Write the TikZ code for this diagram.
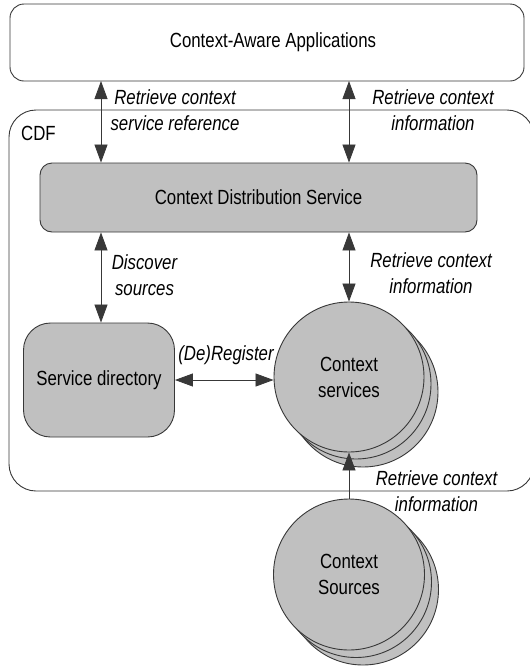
\documentclass[tikz,border=0pt]{standalone}
\usepackage{fontspec}
\setmainfont[FakeStretch=0.82]{Liberation Sans}
\usetikzlibrary{arrows.meta}
\definecolor{boxgray}{HTML}{C0C0C0}
\definecolor{linegray}{HTML}{383838}
\tikzset{
  lbl/.style={font=\fontsize{20.5}{26}\selectfont, align=center, inner sep=0pt},
  ilbl/.style={font=\fontsize{20.5}{26}\selectfont\itshape, align=center, inner sep=0pt},
  graybox/.style={draw=linegray, line width=0.9pt, fill=boxgray},
  ctxcircle/.style={graybox, circle, minimum size=150pt, inner sep=0pt, font=\fontsize{20.5}{26}\selectfont, align=center},
  biarrow/.style={draw=linegray, line width=0.8pt, {Triangle[length=18pt,width=13pt]}-{Triangle[length=18pt,width=13pt]}},
  uparrow/.style={draw=linegray, line width=0.8pt, -{Triangle[length=18pt,width=13pt]}}
}
\begin{document}
\begin{tikzpicture}[x=1pt,y=-1pt]
\useasboundingbox (0,0) rectangle (530,667);
\begin{scope}
\clip (0,0) rectangle (530,667);
% CDF container
\draw[draw=linegray, line width=0.9pt, fill=white, rounded corners=27pt] (9,110) rectangle (534,491);
\end{scope}
\node[lbl, anchor=west] (cdf) at (21,133) {CDF};
% Applications
\draw[draw=linegray, line width=0.9pt, fill=white, rounded corners=14pt] (10,4) rectangle (524,81);
\node[lbl] (apps) at (273,42.5) {Context-Aware Applications};
\coordinate (appsS) at (267,81);
% Context Distribution Service
\node[graybox, rounded corners=12pt, minimum width=437pt, minimum height=69pt, lbl, inner sep=0pt] (cds) at (258.5,197.5) {Context Distribution Service};
% Service directory
\node[graybox, rounded corners=27pt, minimum width=151pt, minimum height=114pt, lbl, inner sep=0pt] (sd) at (99,380) {Service directory};
% Context services (stacked)
\node[ctxcircle] (svcC) at (363,392) {};
\node[ctxcircle] (svcB) at (356,384) {};
\node[ctxcircle] (svc) at (349,377) {Context\\services};
% Context sources (stacked)
\node[ctxcircle, minimum size=151pt] (srcC) at (363,589.5) {};
\node[ctxcircle, minimum size=151pt] (srcB) at (356,582) {};
\node[ctxcircle, minimum size=151pt] (src) at (349,574.5) {Context\\Sources};
% helper x positions
\coordinate (xL) at (101,0);
\coordinate (xR) at (349,0);
% arrows
\draw[biarrow] (appsS -| xL) -- (cds.north -| xL);
\draw[biarrow] (appsS -| xR) -- (cds.north -| xR);
\draw[biarrow] (cds.south -| xL) -- (sd.north -| xL);
\draw[biarrow] (cds.south -| xR) -- (svc.north);
\draw[biarrow] (sd.east) -- (sd.east -| svc.west);
\draw[uparrow] (src.north) -- (svc.south);
% labels
\node[ilbl] (l1) at (175,110.5) {Retrieve context\\service reference};
\node[ilbl] (l2) at (433,110.5) {Retrieve context\\information};
\node[ilbl] (l3) at (144.5,275) {Discover\\sources};
\node[ilbl] (l4) at (431,273.5) {Retrieve context\\information};
\node[ilbl] (l5) at (226,355) {(De)Register};
\node[ilbl] (l6) at (436.5,491.5) {Retrieve context\\information};
\end{tikzpicture}
\end{document}
